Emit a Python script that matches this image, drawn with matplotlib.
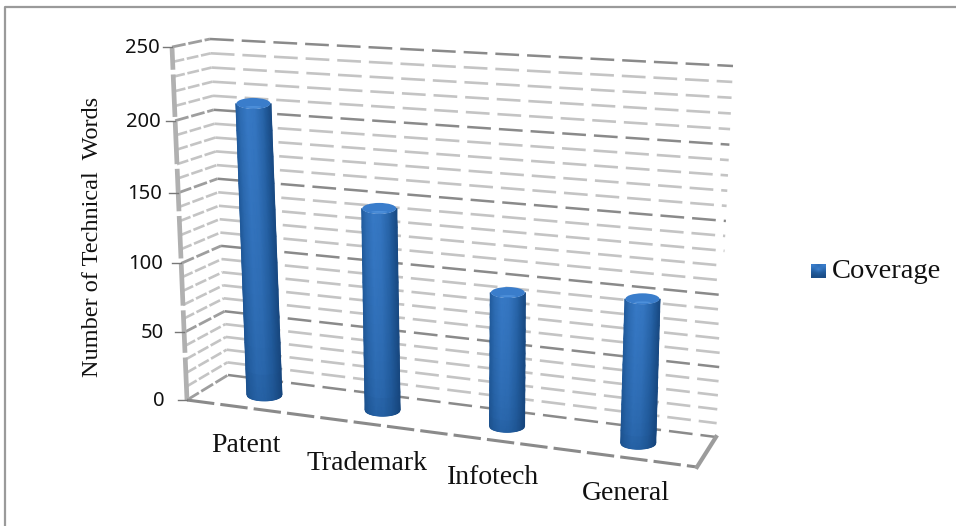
import numpy as np
import matplotlib
matplotlib.use("Agg")
import matplotlib.pyplot as plt
from matplotlib.colors import LinearSegmentedColormap
from matplotlib.patches import Ellipse

categories = ["Patent", "Trademark", "Infotech", "General"]
coverage = [211, 145, 95, 100]
value_ticks = [0, 50, 100, 150, 200, 250]
minor_ticks = [v for v in range(0, 251, 10) if v % 50 != 0]
series_name = "Coverage"
axis_title = "Number of Technical  Words"

# corners of the 3d box on the canvas: (category 0/4, value 0/250)
FRONT = [(187, 400), (697, 467), (712, 77), (172, 47)]
BACK = [(228, 375), (716, 437), (733, 66), (210, 39)]
BAR_DEPTH = 0.5


def homography(quad):
    src = [(0, 0), (4, 0), (4, 250), (0, 250)]
    rows, rhs = [], []
    for (x, y), (u, v) in zip(src, quad):
        rows.append([x, y, 1, 0, 0, 0, -u * x, -u * y])
        rows.append([0, 0, 0, x, y, 1, -v * x, -v * y])
        rhs += [u, v]
    return np.append(np.linalg.solve(np.array(rows, float), np.array(rhs, float)), 1).reshape(3, 3)


H_FRONT = homography(FRONT)
H_BACK = homography(BACK)


def project(cat, value, depth=1.0):
    # category, value, depth -> canvas position
    def apply(h):
        w = h @ np.array([cat, value, 1.0])
        return w[:2] / w[2]
    return (1 - depth) * apply(H_FRONT) + depth * apply(H_BACK)


def line3d(ax, a, b, **kw):
    pts = np.array([project(*a), project(*b)])
    ax.plot(pts[:, 0], pts[:, 1], **kw)


fig = plt.figure(figsize=(9.56, 5.26), dpi=100)
ax = fig.add_axes([0, 0, 1, 1])
ax.set_xlim(0, 956)
ax.set_ylim(526, 0)
ax.axis("off")

# chart border, only top and left show
ax.plot([5, 5, 956], [526, 6.5, 6.5], color="#9a9a9a", lw=1.6, solid_capstyle="butt")

light = dict(color="#c4c4c4", lw=1.9, zorder=1)
dark = dict(color="#8a8a8a", lw=1.8, zorder=1.5)
for v in minor_ticks:
    line3d(ax, (0, v, 1), (4, v, 1), ls=(0, (9, 3)), **light)
    line3d(ax, (0, v, 0), (0, v, 1), ls=(0, (4.5, 1)), **light)
for v in value_ticks:
    line3d(ax, (0, v, 1), (4, v, 1), ls=(0, (9.5, 3.2)), **dark)
    line3d(ax, (0, v, 0), (0, v, 1), ls=(0, (5, 1)), color="#9e9e9e", lw=2.0, zorder=1.5)

# front edge of the side wall and the floor edges
line3d(ax, (0, 0, 0), (0, 250, 0), ls=(0, (9, 1)), color="#b0b0b0", lw=3.4, zorder=2)
line3d(ax, (0, 0, 0), (4, 0, 0), ls=(0, (9, 2)), color="#8a8a8a", lw=2.2, zorder=2)
line3d(ax, (4, 0, 0), (4, 0, 1), color="#9c9c9c", lw=3, zorder=2)

# value axis
for v in value_ticks:
    x, y = project(0, v, 0)
    ax.plot([x - 9, x], [y, y], color="#777777", lw=1.0, zorder=2)
    ax.text(165 - 5 * v / 250, y + 1, str(v), ha="right", va="center",
            family="Noto Sans", fontsize=14.5, color="#111111")

# cylinders
blues = LinearSegmentedColormap.from_list("bars", ["#123d70", "#225c9d", "#3c80cf"])
u = np.linspace(-1, 1, 41)
across = np.interp(u, [-1, -0.75, -0.35, 0.1, 0.55, 0.85, 1], [0.5, 0.72, 0.9, 0.85, 0.62, 0.36, 0.22])
for i, value in enumerate(coverage):
    base = project(i + 0.5, 0, BAR_DEPTH)
    top = project(i + 0.5, value, BAR_DEPTH)
    t = np.linspace(0, 1, 12)
    uu, tt = np.meshgrid(u, t)
    r, ry = 17.5, 6.0
    xx = base[0] + (top[0] - base[0]) * tt + uu * r
    yy = base[1] + (top[1] - base[1]) * tt + np.sqrt(1 - uu ** 2) * ry
    shade = np.clip(across * (0.62 + 0.38 * tt ** 0.5), 0, 1)
    ax.pcolormesh(xx, yy, shade, cmap=blues, vmin=0, vmax=1, shading="gouraud", zorder=3)
    ax.add_patch(Ellipse(top, 2 * r - 1, 2 * ry - 1, color="#3a7dcb", lw=0, zorder=4))
    ax.add_patch(Ellipse((top[0], top[1] + 3.5), 16, 1.8, color="#5b9de6", lw=0, alpha=0.6, zorder=4))

# category labels
label_pos = [(246, 446), (367, 464), (493, 478), (626, 494)]
for name, (x, y) in zip(categories, label_pos):
    ax.text(x, y, name, ha="center", va="center", family="Liberation Serif",
            fontsize=20, color="#111111")

ax.text(93, 237, axis_title, rotation=90, ha="center", va="center",
        family="Liberation Serif", fontsize=17.5, color="#111111")

# legend
swatch = np.array([[0.95, 0.75, 0.95], [0.7, 1.0, 0.7], [0.45, 0.55, 0.45], [0.25, 0.3, 0.25]])
ax.imshow(swatch, cmap=blues, vmin=0, vmax=1, extent=(811, 826, 278, 264),
          interpolation="bilinear", aspect="auto", zorder=3)
ax.set_xlim(0, 956)
ax.set_ylim(526, 0)
ax.text(832, 278, series_name, ha="left", va="baseline", family="Liberation Serif",
        fontsize=20.5, color="#111111")

fig.savefig("out.png", dpi=100)
